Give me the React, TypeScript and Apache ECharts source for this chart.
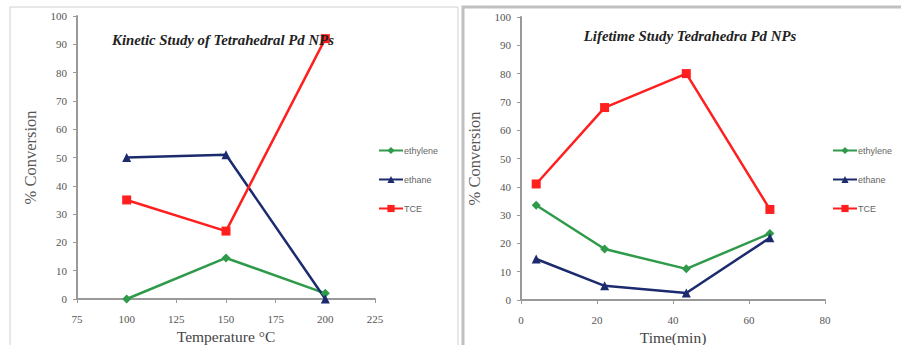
import React, { useEffect, useRef } from "react";
import * as echarts from "echarts";

const seriesNames = ["ethylene", "ethane", "TCE"];
const temperatures = [100, 150, 200];
const kineticEthylene = [0, 14.5, 2];
const kineticEthane = [50, 51, 0];
const kineticTCE = [35, 24, 92];

const times = [4, 22, 43.5, 65.5];
const lifeEthylene = [33.5, 18, 11, 23.5];
const lifeEthane = [14.5, 5, 2.5, 22];
const lifeTCE = [41, 68, 80, 32];

const colors = ["#2e9a4a", "#1c2a6e", "#ff1f1f"];
const symbols = ["diamond", "triangle", "rect"];

const serif = "'Liberation Serif', 'Times New Roman', serif";

function zip(xs: number[], ys: number[]) {
  return xs.map((x, i) => [x, ys[i]]);
}

export default function App() {
  const ref = useRef<HTMLDivElement>(null);
  useEffect(() => {
    if (!ref.current) return;
    const chart = echarts.init(ref.current, null, { renderer: "svg" });
    const axisLine = { lineStyle: { color: "#999", width: 2 } };
    const axisTick = { show: true, lineStyle: { color: "#999" }, length: 4 };
    const axisLabel = { color: "#555", fontFamily: serif, fontSize: 11 };
    const xBase = (gi: number, min: number, max: number, interval: number, name: string) => ({
      type: "value",
      gridIndex: gi,
      min,
      max,
      interval,
      name,
      nameLocation: "middle",
      nameGap: 23,
      nameTextStyle: { fontFamily: serif, fontSize: 15.5, color: "#444" },
      axisLine,
      axisTick,
      axisLabel: { ...axisLabel, margin: 14 },
      splitLine: { show: false },
    });
    const yBase = (gi: number) => ({
      type: "value",
      gridIndex: gi,
      min: 0,
      max: 100,
      interval: 10,
      name: "% Conversion",
      nameLocation: "middle",
      nameGap: 38,
      nameTextStyle: { fontFamily: serif, fontSize: 16.5, color: "#555" },
      axisLine: { show: true, ...axisLine },
      axisTick: { ...axisTick, inside: false },
      axisLabel: { ...axisLabel, margin: 10 },
      splitLine: { show: false },
    });
    const mk = (name: string, idx: number, gi: number, data: number[][]) => ({
      type: "line",
      name,
      xAxisIndex: gi,
      yAxisIndex: gi,
      data,
      symbol: symbols[idx],
      symbolSize: 9,
      lineStyle: { color: colors[idx], width: 2.5 },
      itemStyle: { color: colors[idx] },
    });
    const legendBase = (left: number) => ({
      orient: "vertical",
      left,
      top: 141,
      itemWidth: 24,
      itemHeight: 9,
      itemGap: 20,
      textStyle: { fontFamily: "'Liberation Sans', Arial, sans-serif", fontSize: 9, color: "#666", padding: [0, 0, 0, -4] },
    });
    const titleStyle = { fontFamily: serif, fontSize: 14.8, fontStyle: "italic", fontWeight: "bold", color: "#222" };
    chart.setOption({
      animation: false,
      backgroundColor: "#fff",
      graphic: [
        { type: "rect", shape: { x: 10, y: 7, width: 448, height: 345 }, style: { fill: "none", stroke: "#d0d0d0", lineWidth: 1 } },
        { type: "rect", shape: { x: 463, y: 7, width: 450, height: 345 }, style: { fill: "none", stroke: "#c0c0c0", lineWidth: 3 } },
      ],
      title: [
        { text: "Kinetic Study of Tetrahedral Pd NPs", left: 218, top: 27, textAlign: "center", textStyle: titleStyle },
        { text: "Lifetime Study Tedrahedra Pd NPs", left: 685, top: 23, textAlign: "center", textStyle: titleStyle },
      ],
      legend: [
        { ...legendBase(373), data: seriesNames.map((n) => n) },
        { ...legendBase(827), data: seriesNames.map((n) => n + " ") },
      ],
      grid: [
        { left: 77, top: 16, width: 298, height: 283, containLabel: false, outerBoundsMode: "none" },
        { left: 521, top: 17, width: 304, height: 283, containLabel: false, outerBoundsMode: "none" },
      ],
      xAxis: [
        xBase(0, 75, 225, 25, "Temperature °C"),
        xBase(1, 0, 80, 20, "Time(min)"),
      ],
      yAxis: [yBase(0), yBase(1)],
      series: [
        mk(seriesNames[0], 0, 0, zip(temperatures, kineticEthylene)),
        mk(seriesNames[1], 1, 0, zip(temperatures, kineticEthane)),
        mk(seriesNames[2], 2, 0, zip(temperatures, kineticTCE)),
        mk(seriesNames[0] + " ", 0, 1, zip(times, lifeEthylene)),
        mk(seriesNames[1] + " ", 1, 1, zip(times, lifeEthane)),
        mk(seriesNames[2] + " ", 2, 1, zip(times, lifeTCE)),
      ],
    });
    return () => chart.dispose();
  }, []);
  return (
    <div
      ref={ref}
      style={{ position: "fixed", left: 0, top: 0, width: 901, height: 345 }}
    />
  );
}
